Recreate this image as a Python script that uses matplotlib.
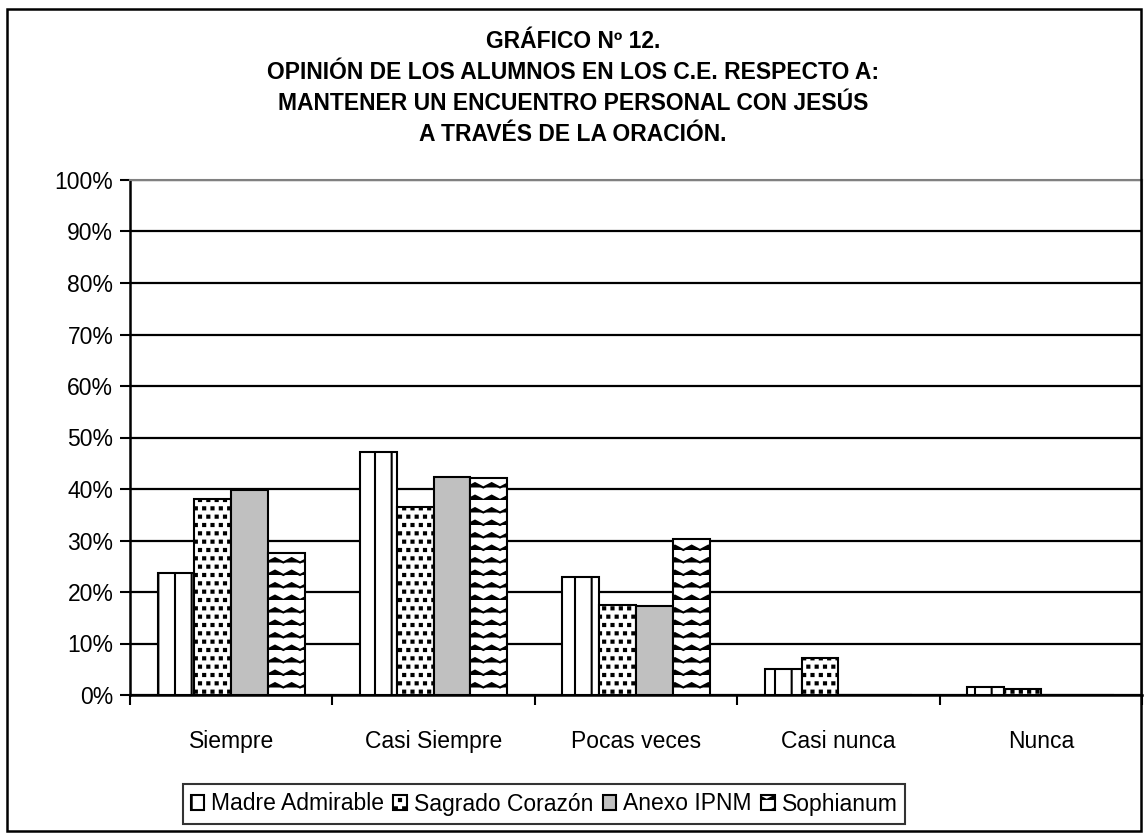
import matplotlib
matplotlib.use("Agg")
import matplotlib.pyplot as plt
import matplotlib.hatch as mhatch
from matplotlib.patches import Rectangle
from matplotlib.path import Path
from matplotlib.ticker import PercentFormatter
import numpy as np

categories = ["Siempre", "Casi Siempre", "Pocas veces", "Casi nunca", "Nunca"]
schools = ["Madre Admirable", "Sagrado Corazón", "Anexo IPNM", "Sophianum"]

madre_admirable = [23.7, 47.2, 23.0, 5.1, 1.6]
sagrado_corazon = [38.0, 36.6, 17.4, 7.2, 1.2]
anexo_ipnm = [39.8, 42.4, 17.3, 0.0, 0.0]
sophianum = [27.6, 42.1, 30.2, 0.0, 0.0]

title = ("GRÁFICO Nº 12.\n"
         "OPINIÓN DE LOS ALUMNOS EN LOS C.E. RESPECTO A:\n"
         "MANTENER UN ENCUENTRO PERSONAL CON JESÚS\n"
         "A TRAVÉS DE LA ORACIÓN.")


class ZigZagHatch(mhatch.HatchPatternBase):
    """Zigzag rows, used for every '*' in a hatch string (replaces stars)."""

    segments = 12

    def __init__(self, hatch, density):
        self.num_rows = int(hatch.count("*") * density * 4 // 3)
        self.num_vertices = self.num_rows * (self.segments + 1)

    def set_vertices_and_codes(self, vertices, codes):
        n = self.segments + 1
        xs = np.linspace(0.0, 1.0, n)
        amp = 0.35 / self.num_rows
        wave = np.where(np.arange(n) % 2 == 0, 0.0, amp)
        for i, y0 in enumerate(np.linspace(0.0, 1.0, self.num_rows, endpoint=False)):
            vertices[i * n:(i + 1) * n, 0] = xs
            vertices[i * n:(i + 1) * n, 1] = y0 + wave
            codes[i * n] = Path.MOVETO
            codes[i * n + 1:(i + 1) * n] = Path.LINETO


class SquareDots(mhatch.Shapes):
    """Small filled squares, used for every '.' in a hatch string."""

    filled = True
    size = 0.25

    def __init__(self, hatch, density):
        self.num_rows = hatch.count(".") * density
        rect = Path.unit_rectangle()
        self.shape_vertices = rect.vertices - 0.5
        self.shape_codes = rect.codes
        super().__init__(hatch, density)


mhatch._hatch_types = [h for h in mhatch._hatch_types
                       if h not in (mhatch.Stars, mhatch.SmallFilledCircles)]
mhatch._hatch_types += [ZigZagHatch, SquareDots]

plt.rcParams["font.family"] = ["Liberation Sans", "DejaVu Sans"]
plt.rcParams["hatch.linewidth"] = 1.5

fig = plt.figure(figsize=(11.46, 8.34), dpi=100)
ax = fig.add_axes([130 / 1146, 1 - 695 / 834, 1012 / 1146, 515 / 834])

series = [madre_admirable, sagrado_corazon, anexo_ipnm, sophianum]
styles = [
    dict(facecolor="white", hatch="|"),
    dict(facecolor="white", hatch=".."),
    dict(facecolor="#c0c0c0", hatch=None),
    dict(facecolor="white", hatch="*"),
]
x = np.arange(len(categories))
w = 0.182
for i, (vals, st) in enumerate(zip(series, styles)):
    ax.bar(x + (i - 1.5) * w, vals, w, edgecolor="black", linewidth=1.5,
           label=schools[i], zorder=3, **st)

ax.set_xlim(-0.5, len(categories) - 0.5)
ax.set_ylim(0, 100)
ax.set_yticks(np.arange(0, 101, 10))
ax.yaxis.set_major_formatter(PercentFormatter(decimals=0))
ax.grid(axis="y", color="black", linewidth=1.6, zorder=0)
ax.set_axisbelow(True)

ax.set_xticks(x)
ax.set_xticklabels(categories)
ax.set_xticks(np.arange(-0.5, len(categories)), minor=True)
ax.tick_params(axis="x", which="major", length=0, pad=25, labelsize=16.5)
ax.tick_params(axis="x", which="minor", length=7, width=1.5, direction="out")
ax.tick_params(axis="y", length=7, width=1.5, pad=5, labelsize=16.5)

for side in ["left", "bottom"]:
    ax.spines[side].set_linewidth(1.8)
    ax.spines[side].set_color("black")
for side in ["top", "right"]:
    ax.spines[side].set_color("#808080")
    ax.spines[side].set_linewidth(1.5)

fig.text(0.5, 1 - 88 / 834, title, ha="center", va="center", fontsize=16.5,
         fontweight="bold", linespacing=1.45)

leg = fig.legend(loc="center", bbox_to_anchor=(544 / 1146, 1 - 804 / 834),
                 ncol=4, fontsize=16.5, frameon=True, fancybox=False,
                 edgecolor="black", handlelength=0.6, handleheight=0.6,
                 handletextpad=0.3, columnspacing=0.4, borderpad=0.35,
                 borderaxespad=0)
leg.get_frame().set_linewidth(1.5)

fig.patches.append(Rectangle((0.006, 0.004), 0.99, 0.985, transform=fig.transFigure,
                             fill=False, edgecolor="black", linewidth=1.8))

fig.savefig("out.png", dpi=100)
